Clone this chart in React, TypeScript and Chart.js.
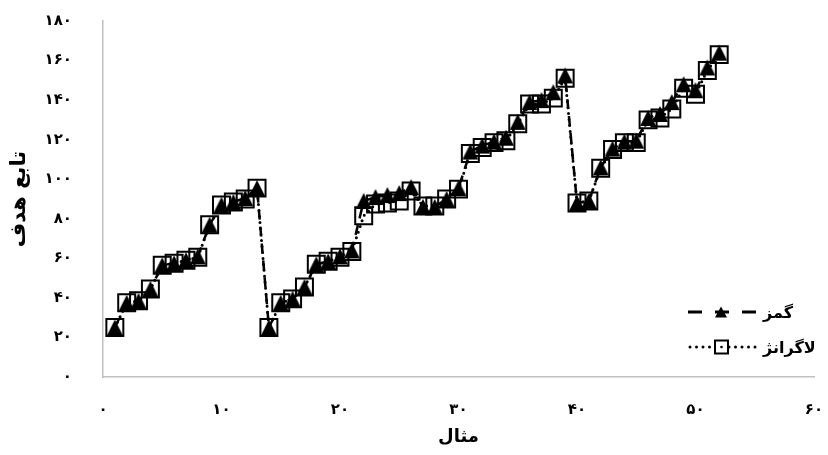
import React, { useEffect, useRef } from 'react';
import { Chart, registerables } from 'chart.js';

Chart.register(...registerables);

// ---- data ----
const xValues = [
  1, 2, 3, 4, 5, 6, 7, 8, 9, 10, 11, 12, 13,
  14, 15, 16, 17, 18, 19, 20, 21, 22, 23, 24, 25, 26, 27, 28, 29, 30,
  31, 32, 33, 34, 35, 36, 37, 38, 39,
  40, 41, 42, 43, 44, 45, 46, 47, 48, 49, 50, 51, 52,
];

const gamzValues = [
  25, 37.5, 38.5, 44.5, 56.5, 57.5, 59, 61, 77, 87, 88.5, 90.5, 95.5,
  25, 37.5, 39.5, 45.5, 57, 58.5, 61, 64, 89, 91, 92, 93, 96, 86, 86, 90, 95.5,
  114, 117, 119, 121, 129, 139, 140, 144, 152.5,
  88, 89, 106, 115.5, 119, 119.5, 131, 133, 139, 148, 145, 156.5, 164,
];

const lagrangeValues = [
  25, 37.5, 38.5, 44.5, 56.5, 57.5, 59, 60.5, 77, 87, 88.5, 90, 95.5,
  25, 37.5, 39.5, 45.5, 57, 58.5, 60.5, 63.5, 81.5, 87.5, 88, 89, 94, 86.5, 86.5, 90, 95,
  113, 116, 118.5, 119.5, 128, 138, 138, 141, 151,
  88, 89, 105.5, 115, 118.5, 118.5, 130, 131, 135.5, 146, 143, 155, 163,
];

const seriesNames = ['گمز', 'لاگرانژ'];
const xTitle = 'مثال';
const yTitle = 'تابع هدف';
const xTickLabels = ['۰', '۱۰', '۲۰', '۳۰', '۴۰', '۵۰', '۶۰'];
const yTickLabels = ['۰', '۲۰', '۴۰', '۶۰', '۸۰', '۱۰۰', '۱۲۰', '۱۴۰', '۱۶۰', '۱۸۰'];

const FONT = "'DejaVu Sans', sans-serif";

function makeTriangle(w: number, h: number): HTMLCanvasElement {
  const c = document.createElement('canvas');
  c.width = w + 2;
  c.height = h + 2;
  const g = c.getContext('2d')!;
  g.fillStyle = '#000';
  g.beginPath();
  g.moveTo(1, h + 1);
  g.lineTo(w + 1, h + 1);
  g.lineTo(w / 2 + 1, 1);
  g.closePath();
  g.fill();
  return c;
}

const legendPlugin = {
  id: 'customLegend',
  afterDraw(chart: any) {
    const ctx = chart.ctx as CanvasRenderingContext2D;
    const x0 = 688;
    const x1 = 757;
    const rows = [312, 347];
    const textX = 763;
    ctx.save();
    // row 1: dashed + triangle
    ctx.strokeStyle = '#000';
    ctx.lineWidth = 3;
    ctx.lineCap = 'butt';
    ctx.setLineDash([14, 13]);
    ctx.beginPath();
    ctx.moveTo(x0, rows[0]);
    ctx.lineTo(x1, rows[0]);
    ctx.stroke();
    ctx.setLineDash([]);
    ctx.fillStyle = '#000';
    ctx.beginPath();
    ctx.moveTo(715, rows[0] + 5.5);
    ctx.lineTo(727, rows[0] + 5.5);
    ctx.lineTo(721, rows[0] - 5.5);
    ctx.closePath();
    ctx.fill();
    // row 2: dotted + square
    ctx.lineCap = 'round';
    ctx.setLineDash([0, 6.5]);
    ctx.beginPath();
    ctx.moveTo(690, rows[1]);
    ctx.lineTo(x1, rows[1]);
    ctx.stroke();
    ctx.setLineDash([]);
    ctx.lineWidth = 2;
    ctx.fillStyle = '#fff';
    ctx.fillRect(715, rows[1] - 6.5, 13, 13);
    ctx.strokeRect(715, rows[1] - 6.5, 13, 13);
    ctx.fillStyle = '#000';
    ctx.beginPath();
    ctx.arc(721.5, rows[1], 1.3, 0, Math.PI * 2);
    ctx.fill();
    // texts
    ctx.fillStyle = '#000';
    ctx.font = `bold 16px ${FONT}`;
    ctx.textAlign = 'left';
    ctx.textBaseline = 'middle';
    const ds = chart.data.datasets;
    ctx.fillText(ds[0].label, textX, rows[0] + 2);
    ctx.fillText(ds[1].label, textX, rows[1] + 2);
    ctx.restore();
  },
};

export default function App() {
  const ref = useRef<HTMLCanvasElement | null>(null);

  useEffect(() => {
    if (!ref.current) return;
    const tri = makeTriangle(16, 16);
    const chart = new Chart(ref.current, {
      type: 'line',
      data: {
        datasets: [
          {
            label: seriesNames[0],
            data: xValues.map((x, i) => ({ x, y: gamzValues[i] })),
            borderColor: '#000',
            backgroundColor: '#000',
            borderWidth: 2.5,
            borderDash: [10, 7],
            pointStyle: tri as any,
            pointRadius: 9,
            pointBackgroundColor: '#000',
            pointBorderColor: '#000',
            tension: 0,
            fill: false,
          },
          {
            label: seriesNames[1],
            data: xValues.map((x, i) => ({ x, y: lagrangeValues[i] })),
            borderColor: '#000',
            backgroundColor: 'transparent',
            borderWidth: 3,
            borderDash: [0, 6],
            borderCapStyle: 'round',
            pointStyle: 'rect',
            pointRadius: 12,
            pointBorderWidth: 2,
            pointBackgroundColor: 'transparent',
            pointBorderColor: '#000',
            tension: 0,
            fill: false,
          },
        ],
      },
      options: {
        animation: false,
        responsive: false,
        maintainAspectRatio: false,
        layout: { padding: { top: 21, right: 5, bottom: 0, left: 0 } },
        plugins: {
          legend: { display: false },
          tooltip: { enabled: false },
        },
        scales: {
          x: {
            type: 'linear',
            min: 0,
            max: 60,
            grid: { display: false, drawTicks: false },
            border: { display: true, color: '#c0c0c0', width: 1.5 },
            ticks: {
              stepSize: 10,
              autoSkip: false,
              maxRotation: 0,
              padding: 24,
              color: '#000',
              font: { family: FONT, size: 15, weight: 'bold' },
              callback: (_v: any, i: number) => xTickLabels[i],
            },
            title: {
              display: true,
              text: xTitle,
              color: '#000',
              font: { family: FONT, size: 18, weight: 'bold' },
              padding: { top: 0, bottom: 7 },
            },
            afterFit: (s: any) => {
              s.height = 78;
              s.paddingRight = 0;
            },
          },
          y: {
            type: 'linear',
            min: 0,
            max: 180,
            grid: { display: false, drawTicks: false },
            border: { display: true, color: '#c0c0c0', width: 1.5 },
            ticks: {
              stepSize: 20,
              autoSkip: false,
              padding: 31,
              color: '#000',
              font: { family: FONT, size: 15, weight: 'bold' },
              callback: (_v: any, i: number) => yTickLabels[i],
            },
            title: {
              display: true,
              text: yTitle,
              color: '#000',
              font: { family: FONT, size: 21, weight: 'bold' },
              padding: { top: 7, bottom: 0 },
            },
            afterFit: (s: any) => {
              s.width = 103;
              s.paddingTop = 0;
              s.paddingBottom = 0;
            },
          },
        },
      },
      plugins: [legendPlugin],
    } as any);
    return () => chart.destroy();
  }, []);

  return (
    <div style={{ position: 'fixed', left: 0, top: 0, width: 828, height: 455, background: '#fff' }}>
      <canvas ref={ref} width={828} height={455} style={{ width: 828, height: 455, display: 'block' }} />
    </div>
  );
}
